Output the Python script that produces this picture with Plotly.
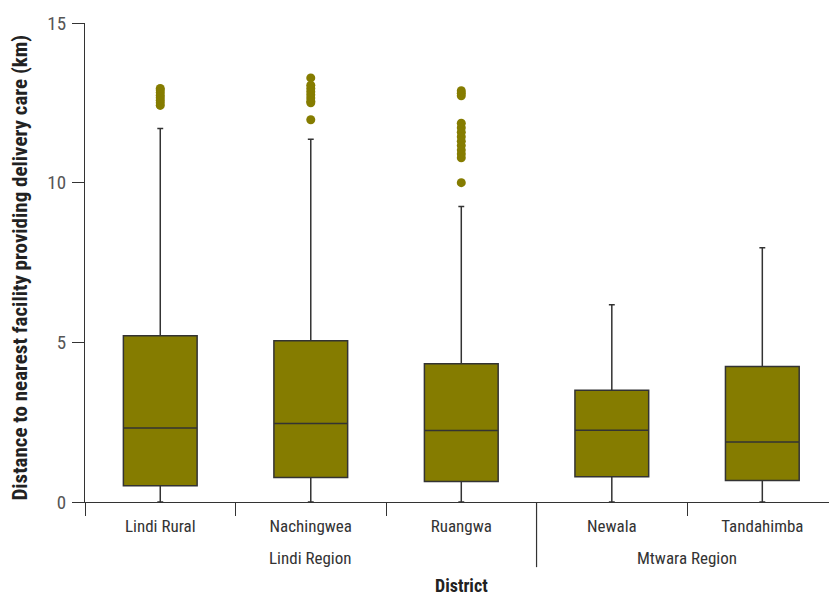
import plotly.graph_objects as go

districts = ["Lindi Rural", "Nachingwea", "Ruangwa", "Newala", "Tandahimba"]
regions = ["Lindi Region", "Lindi Region", "Lindi Region", "Mtwara Region", "Mtwara Region"]
q1 = [0.51, 0.77, 0.64, 0.79, 0.67]
median = [2.32, 2.46, 2.24, 2.25, 1.88]
q3 = [5.21, 5.05, 4.33, 3.50, 4.24]
lowerfence = [0.0, 0.0, 0.0, 0.0, 0.0]
upperfence = [11.70, 11.36, 9.25, 6.18, 7.96]

outliers = {
    "Lindi Rural": [12.42, 12.50, 12.58, 12.66, 12.74, 12.82, 12.90, 12.95],
    "Nachingwea": [13.28, 13.05, 12.95, 12.85, 12.75, 12.65, 12.55, 12.50, 11.97],
    "Ruangwa": [12.88, 12.80, 12.72, 11.86, 11.72, 11.58, 11.44, 11.30, 11.16,
                11.02, 10.90, 10.78, 10.00],
}

yticks = [0, 5, 10, 15]

OLIVE = "#857C00"
LINE = "#333333"
FONT = "Liberation Sans Narrow, Roboto Condensed, Roboto, sans-serif"

fig = go.Figure()
fig.add_trace(go.Box(
    x=districts, q1=q1, median=median, q3=q3,
    lowerfence=lowerfence, upperfence=upperfence,
    boxpoints=False, fillcolor=OLIVE,
    line=dict(color=LINE, width=1.5),
    width=0.49, whiskerwidth=0.08, showlegend=False, hoverinfo="skip",
))

ox, oy = [], []
for d in districts:
    for v in outliers.get(d, []):
        ox.append(d)
        oy.append(v)
fig.add_trace(go.Scatter(
    x=ox, y=oy, mode="markers",
    marker=dict(color=OLIVE, size=9, line=dict(width=0)),
    showlegend=False, hoverinfo="skip", cliponaxis=False,
))

# Region labels
region_names = []
for r in regions:
    if r not in region_names:
        region_names.append(r)
for r in region_names:
    idx = [i for i, rr in enumerate(regions) if rr == r]
    cx = (idx[0] + idx[-1]) / 2
    fig.add_annotation(x=cx, xref="x", y=-0.117, yref="paper", text=r,
                       showarrow=False, xanchor="center", yanchor="middle",
                       font=dict(family=FONT, size=17, color="#333333"))

# Long divider between regions
for i in range(1, len(regions)):
    if regions[i] != regions[i - 1]:
        fig.add_shape(type="line", xref="x", yref="paper",
                      x0=i - 0.5, x1=i - 0.5, y0=0, y1=-0.136,
                      line=dict(color=LINE, width=1.2))

fig.add_annotation(x=(len(districts) - 1) / 2, xref="x", y=-0.174, yref="paper",
                   text="<b>District</b>", showarrow=False,
                   xanchor="center", yanchor="middle",
                   font=dict(family=FONT, size=18, color="#222222"))
fig.add_annotation(x=-0.087, xref="paper", y=0.49, yref="paper",
                   text="<b>Distance to nearest facility providing delivery care (km)</b>",
                   textangle=-90, showarrow=False, xanchor="center", yanchor="middle",
                   font=dict(family=FONT, size=21, color="#222222"))

fig.update_layout(
    width=829, height=597,
    margin=dict(l=85, r=0, t=23, b=95),
    plot_bgcolor="white", paper_bgcolor="white",
    font=dict(family=FONT, size=17, color="#333333"),
    xaxis=dict(
        type="category", categoryorder="array", categoryarray=districts,
        range=[-0.5, 4.443], tickson="boundaries", ticks="outside",
        ticklen=13, tickwidth=1.2, tickcolor=LINE,
        showline=True, linecolor=LINE, linewidth=1.2,
        showgrid=False, zeroline=False, ticklabelstandoff=8,
        tickfont=dict(family=FONT, size=17, color="#333333"),
    ),
    yaxis=dict(
        range=[0, 15], tickvals=yticks, ticks="outside", ticklen=12,
        tickwidth=1.2, tickcolor=LINE, showline=True, linecolor=LINE,
        linewidth=1.2, showgrid=False, zeroline=False, ticklabelstandoff=2,
        tickfont=dict(family=FONT, size=19, color="#555555"),
    ),
)

fig.write_html("out.html")
